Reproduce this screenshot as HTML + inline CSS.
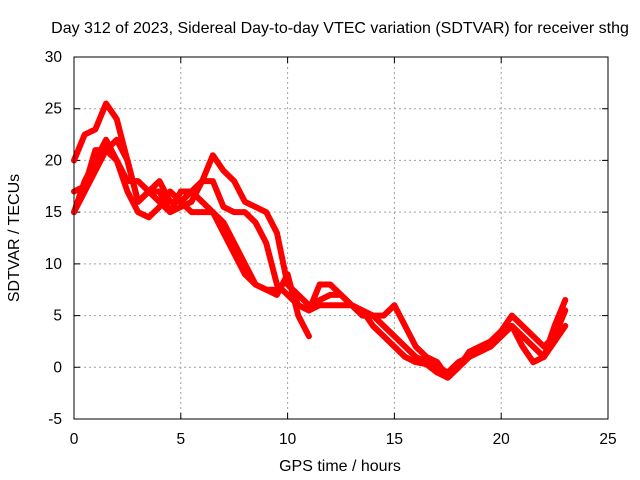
<!DOCTYPE html>
<html><head><meta charset="utf-8"><style>
body{margin:0;background:#fff;}
svg{display:block;font-family:"Liberation Sans",sans-serif;}
</style></head><body>
<svg id="chart" width="640" height="480" xmlns="http://www.w3.org/2000/svg">
<rect width="640" height="480" fill="#fff"/>
<text x="340" y="33" text-anchor="middle" font-size="16">Day 312 of 2023, Sidereal Day-to-day VTEC variation (SDTVAR) for receiver sthg</text>
<g id="grid"></g>
<g id="axes"></g>
<g id="series"></g>
<rect x="74" y="57" width="534" height="362" fill="none" stroke="#000" stroke-width="1"/>
<text x="340" y="471" text-anchor="middle" font-size="16">GPS time / hours</text>
<text transform="translate(19,238) rotate(-90)" text-anchor="middle" font-size="16">SDTVAR / TECUs</text>
</svg>
<script>
const xTicks=[0,5,10,15,20,25];
const yTicks=[-5,0,5,10,15,20,25,30];
const hours=[0,0.5,1,1.5,2,2.5,3,3.5,4,4.5,5,5.5,6,6.5,7,7.5,8,8.5,9,9.5,10,10.5,11,11.5,12,12.5,13,13.5,14,14.5,15,15.5,16,16.5,17,17.5,18,18.5,19,19.5,20,20.5,21,21.5,22,22.5,23];
const series1=[20,22.5,23,25.5,24,20,16,17,18,16,16,17,18,18,15.5,15,15,14,12,8,7,6,5.5,6,6,6,6,5.5,5,4,3,2,1,0.5,0,-0.5,0.5,1,2,2,3,4,3,2,1,4,6.5];
const series2=[15,17,19,21,22,20,16,17,17,15,15.5,16,18,20.5,19,18,16,15.5,15,13,8,7,6,6.5,7,7,6,5,5,5,6,4,2,1,0.5,-1,0,1.5,2,2.5,3.5,5,4,3,2,3,5.5];
const series3=[17,17.5,21,21,20,17,15,14.5,15.5,17,16,15,15,15,13,11,9,8,7.5,7.5,8.5,6,5.5,8,8,7,6,5.5,4,3,2,1,0.5,0.3,-0.5,-1,0,1,1.5,2,3,4,2,0.5,1,2.5,4];
const series4=[15,18,20,22,20,18,18,17,16,15,17,17,16,15,14,12,10,8,7.5,7,9,5,3];
const X0=74,X1=608,Y0=419,Y1=57;
const xs=v=>X0+(v-0)/(25-0)*(X1-X0);
const ys=v=>Y0-(v+5)/35*(Y0-Y1);
const NS="http://www.w3.org/2000/svg";
function mk(tag,attrs,parent){const e=document.createElementNS(NS,tag);for(const k in attrs)e.setAttribute(k,attrs[k]);parent.appendChild(e);return e;}
const grid=document.getElementById('grid'),axes=document.getElementById('axes'),ser=document.getElementById('series');
xTicks.forEach(t=>{
 const x=xs(t);
 if(t>0&&t<25){const l=mk('line',{x1:x,x2:x,y1:Y0,y2:Y1,stroke:'#a0a0a0','stroke-dasharray':'2,3'},grid);
 
 }
 const tk=mk('path',{d:`M${x},${Y0}v-6M${x},${Y1}v6`,stroke:'#000'},axes);
 
 
 const tx=mk('text',{x:x,y:Y0+25,'text-anchor':'middle','font-size':15.5},axes);tx.textContent=t;
 
 
});
yTicks.forEach(t=>{
 const y=ys(t);
 if(t>-5&&t<30){const l=mk('line',{x1:X0,x2:X1,y1:y,y2:y,stroke:'#a0a0a0','stroke-dasharray':'2,3'},grid);
 
 }
 const tk=mk('path',{d:`M${X0},${y}h6M${X1},${y}h-6`,stroke:'#000'},axes);
 
 
 const tx=mk('text',{x:X0-12,y:y+5,'text-anchor':'end','font-size':15.5},axes);tx.textContent=t;
 
 
});
[series1,series2,series3,series4].forEach((s,i)=>{
 const pts=s.map((v,j)=>xs(hours[j])+','+ys(v)).join(' ');
 const p=mk('polyline',{points:pts,fill:'none',stroke:'#f00','stroke-width':6,'stroke-linejoin':'round','stroke-linecap':'round'},ser);
 
 
});
</script>
</body></html>
